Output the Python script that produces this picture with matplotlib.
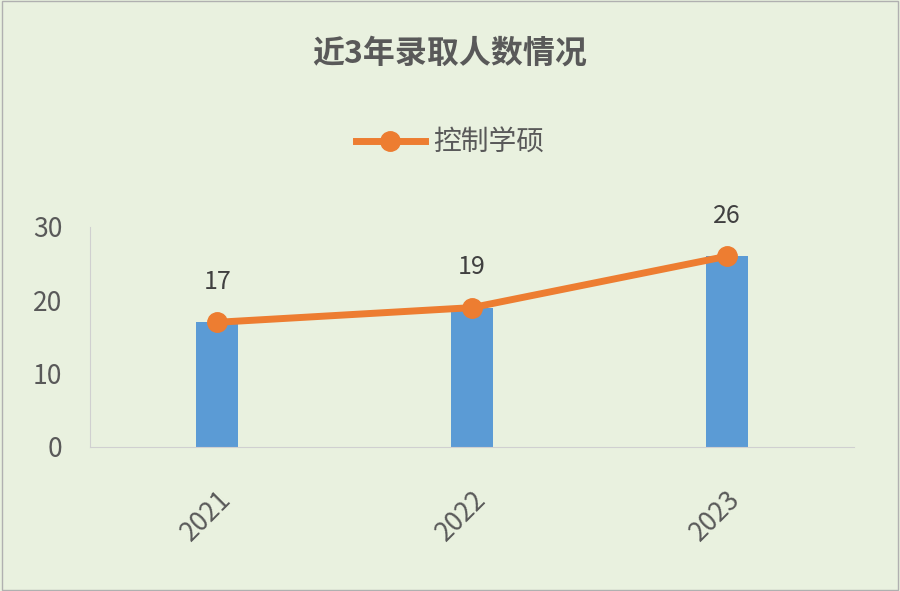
import matplotlib
matplotlib.use("Agg")
import matplotlib.pyplot as plt

plt.rcParams['font.family'] = ['Noto Sans CJK SC', 'DejaVu Sans']

years = ['2021', '2022', '2023']
values = [17, 19, 26]
series_name = '控制学硕'
title = '近3年录取人数情况'

bg = '#e9f1df'
fig = plt.figure(figsize=(9, 5.91), dpi=100, facecolor=bg)
fig.patches.append(plt.Rectangle((0.002, 0.002), 0.996, 0.996, transform=fig.transFigure,
                                 fill=False, edgecolor='#b0b0b0', linewidth=1))
ax = fig.add_axes([0.1, 0.2437, 0.849, 0.3723], facecolor=bg)
x = list(range(len(years)))
ax.bar(x, values, width=0.165, color='#5b9bd5', zorder=2)
ax.plot(x, values, color='#ed7d31', linewidth=5, marker='o', markersize=14,
        label=series_name, zorder=3)
for xi, v in zip(x, values):
    ax.annotate(str(v), (xi, v), xytext=(0, 20), textcoords='offset points',
                ha='center', va='bottom', fontsize=18, color='#404040')
ax.set_xlim(-0.5, 2.5)
ax.set_ylim(0, 30)
ax.set_yticks([0, 10, 20, 30])
ax.set_xticks(x)
ax.set_xticklabels(years, rotation=45, ha='right', rotation_mode='anchor')
ax.tick_params(axis='both', length=0, labelsize=19, labelcolor='#595959')
ax.tick_params(axis='x', pad=28)
ax.tick_params(axis='y', pad=20)
for s in ['top', 'right']:
    ax.spines[s].set_visible(False)
ax.spines['left'].set_color('#d0d0d0')
ax.spines['bottom'].set_color('#d0d0d0')
fig.text(0.5, 0.91, title, ha='center', va='center', fontsize=23, fontweight='bold', color='#595959')
fig.legend(loc='center', bbox_to_anchor=(0.5, 0.758), frameon=False, fontsize=20,
           labelcolor='#595959', handlelength=2.5, handletextpad=0.3)
fig.savefig('out.png', dpi=100, facecolor=bg)
